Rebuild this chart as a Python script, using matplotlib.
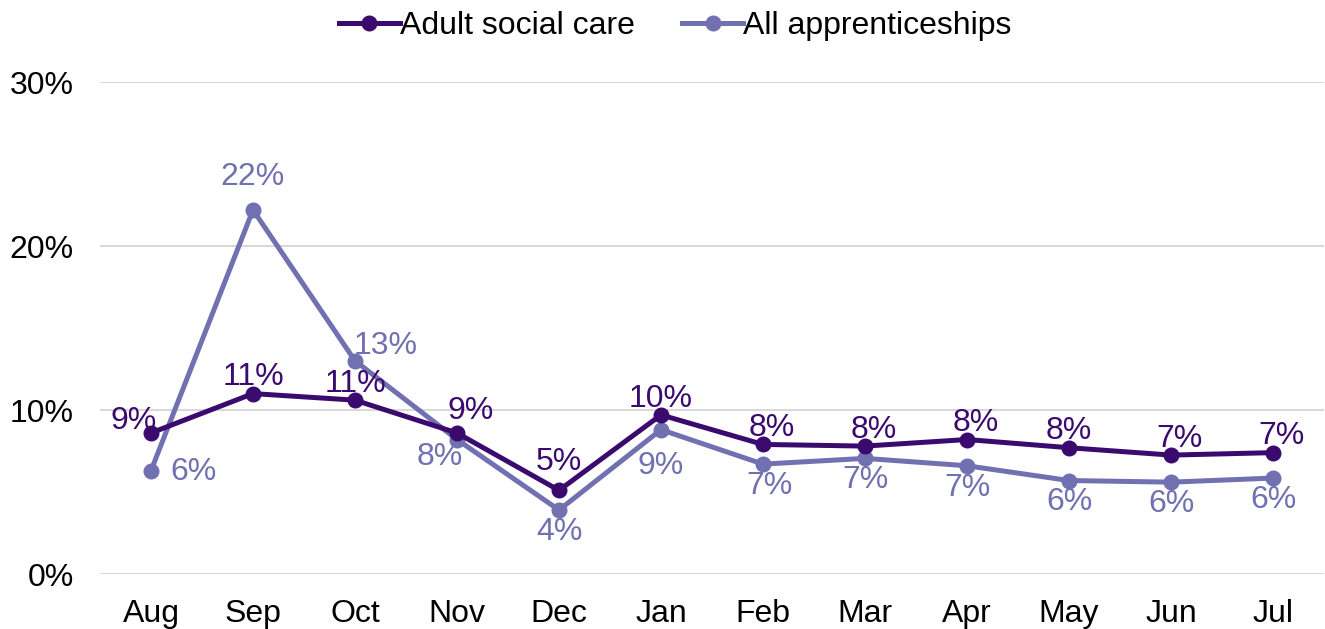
import matplotlib.pyplot as plt
from matplotlib.ticker import FuncFormatter

plt.rcParams['font.family'] = ['Liberation Sans', 'DejaVu Sans']

months = ['Aug', 'Sep', 'Oct', 'Nov', 'Dec', 'Jan', 'Feb', 'Mar', 'Apr', 'May', 'Jun', 'Jul']
adult_care = [8.6, 11.0, 10.6, 8.6, 5.1, 9.7, 7.9, 7.8, 8.2, 7.7, 7.25, 7.4]
all_apps = [6.3, 22.2, 13.0, 8.2, 3.9, 8.8, 6.7, 7.05, 6.6, 5.7, 5.6, 5.85]

# where each value label sits relative to its point
care_pos = ['left', 'up', 'up', 'upright2', 'upfar', 'up', 'upr', 'upr', 'upr', 'up', 'upr', 'upr']
apps_pos = ['right', 'upfar', 'upright', 'downleft', 'down', 'downfar', 'downr', 'down',
            'down', 'down', 'down', 'down']

dark = '#3b0a6e'
light = '#7170b0'

# (dx, dy, ha, va) in points
offsets = {
    'up': (0, 6, 'center', 'baseline'),
    'upr': (6, 6, 'center', 'baseline'),
    'upfar': (0, 15, 'center', 'baseline'),
    'upright2': (10, 10, 'center', 'baseline'),
    'upright': (-1, 5, 'left', 'baseline'),
    'left': (4, 3, 'right', 'baseline'),
    'right': (14, -1, 'left', 'center'),
    'down': (0, -5, 'center', 'top'),
    'downr': (5, -5, 'center', 'top'),
    'downfar': (0, -15, 'center', 'top'),
    'downleft': (-12.5, -2, 'center', 'top'),
}
offsets['upfar'] = (0, 15, 'center', 'baseline')

fig = plt.figure(figsize=(13.25, 6.29), dpi=100)
ax = fig.add_axes([100 / 1325, 55 / 629, 1224 / 1325, 492 / 629])

x = range(len(months))
ax.plot(x, adult_care, color=dark, lw=3.6, marker='o', ms=10.5, label='Adult social care', zorder=3)
ax.plot(x, all_apps, color=light, lw=3.6, marker='o', ms=10.5, label='All apprenticeships', zorder=2)

for vals, pos, col in [(adult_care, care_pos, dark), (all_apps, apps_pos, light)]:
    for i, (v, p) in enumerate(zip(vals, pos)):
        dx, dy, ha, va = offsets[p]
        if col == light and p == 'upfar':
            dy = 18
        ax.annotate(f'{round(v):.0f}%', (i, v), xytext=(dx, dy), textcoords='offset points',
                    ha=ha, va=va, fontsize=23, color=col, zorder=4)

ax.set_xlim(-0.5, 11.5)
ax.set_ylim(0, 30)
ax.set_yticks([0, 10, 20, 30])
ax.yaxis.set_major_formatter(FuncFormatter(lambda v, _: f'{v:.0f}%'))
ax.set_xticks(list(x))
ax.set_xticklabels(months)
ax.tick_params(length=0, labelsize=23, colors='black')
ax.tick_params(axis='x', pad=18)
ax.tick_params(axis='y', pad=19)
ax.grid(axis='y', color='#d9d9d9', lw=1.5)
ax.set_axisbelow(True)
for s in ax.spines.values():
    s.set_visible(False)

ax.legend(loc='center', bbox_to_anchor=(0.47, 1.114), ncol=2, frameon=False,
          fontsize=23, handlelength=1.9, handletextpad=0.0, columnspacing=1.5)

fig.savefig('out.png', dpi=100)
